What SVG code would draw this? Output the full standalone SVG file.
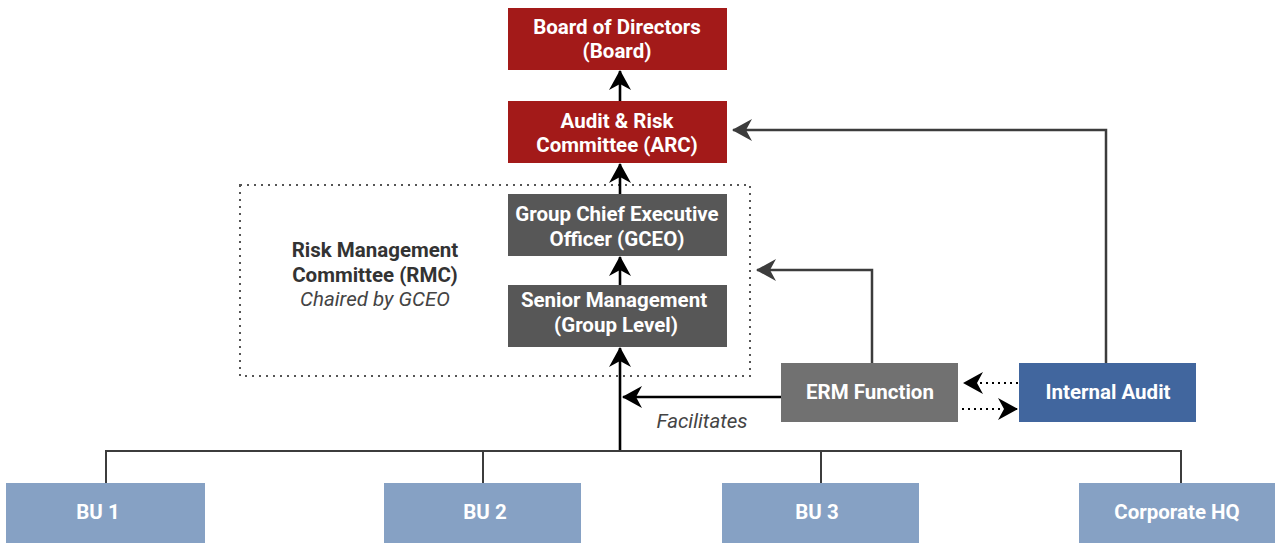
<svg xmlns="http://www.w3.org/2000/svg" width="1275" height="543" viewBox="0 0 1275 543">
<style>
.t{font-family:Roboto,"Liberation Sans",sans-serif;font-weight:bold;font-size:20.5px;fill:#fff;text-anchor:middle}
.d{font-family:Roboto,"Liberation Sans",sans-serif;font-size:20.5px;fill:#333;text-anchor:middle}
.it{font-style:italic;fill:#444;font-weight:normal}
.red{fill:#A31A19}
.dg{fill:#575757}
.bu{fill:#86A1C4}
.k{fill:none;stroke:#000;stroke-width:2.6}
.g{fill:none;stroke:#3c3c3c;stroke-width:2.5}
.bus{fill:none;stroke:#3c3c3c;stroke-width:2}
.dot{fill:none;stroke:#000;stroke-width:2;stroke-dasharray:2 4}
</style>
<defs>
<marker id="ak" viewBox="0 0 20 22" refX="19" refY="11" markerWidth="20" markerHeight="22" markerUnits="userSpaceOnUse" orient="auto"><path d="M0,0 L20,11 L0,22 L6,11 z" fill="#000"/></marker>
<marker id="ag" viewBox="0 0 20 22" refX="19" refY="11" markerWidth="20" markerHeight="22" markerUnits="userSpaceOnUse" orient="auto"><path d="M0,0 L20,11 L0,22 L6,11 z" fill="#3c3c3c"/></marker>
</defs>
<g id="rmc">
<rect x="240" y="185" width="510" height="191" fill="none" stroke="#555" stroke-width="2" stroke-dasharray="2 5"/>
<text class="d" x="375" y="257" font-weight="bold">Risk Management</text>
<text class="d" x="375" y="282" font-weight="bold">Committee (RMC)</text>
<text class="d it" x="375" y="306">Chaired by GCEO</text>
</g>
<g id="connectors">
<path class="k" d="M620,101 V71" marker-end="url(#ak)"/>
<path class="k" d="M620,194 V164" marker-end="url(#ak)"/>
<path class="k" d="M620,285 V257" marker-end="url(#ak)"/>
<path class="k" d="M620,451 V348" marker-end="url(#ak)"/>
<path class="k" d="M781,397 H623" marker-end="url(#ak)"/>
<path class="bus" d="M106,483 V451 H1181 V483 M483,451 V483 M821,451 V483"/>
<path class="g" d="M872,363 V270 H757" marker-end="url(#ag)"/>
<path class="g" d="M1106,363 V130 H733" marker-end="url(#ag)"/>
<path class="dot" d="M1018,383 H964" marker-end="url(#ak)"/>
<path class="dot" d="M962,409 H1017" marker-end="url(#ak)"/>
<text class="d it" x="702" y="428">Facilitates</text>
</g>
<g id="board"><rect class="red" x="508" y="8" width="219" height="62"/>
<text class="t" x="617" y="34">Board of Directors</text><text class="t" x="617" y="58">(Board)</text></g>
<g id="arc"><rect class="red" x="508" y="101" width="219" height="62"/>
<text class="t" x="617" y="128">Audit &amp; Risk</text><text class="t" x="617" y="152">Committee (ARC)</text></g>
<g id="gceo"><rect class="dg" x="508" y="194" width="219" height="62"/>
<text class="t" x="617" y="221">Group Chief Executive</text><text class="t" x="617" y="246">Officer (GCEO)</text></g>
<g id="sm"><rect class="dg" x="508" y="285" width="219" height="62"/>
<text class="t" x="614" y="307">Senior Management</text><text class="t" x="616" y="332">(Group Level)</text></g>
<g id="erm"><rect x="781" y="363" width="177" height="59" fill="#717171"/>
<text class="t" x="870" y="399">ERM Function</text></g>
<g id="ia"><rect x="1019" y="363" width="177" height="59" fill="#41669E"/>
<text class="t" x="1108" y="399">Internal Audit</text></g>
<g id="bu1"><rect class="bu" x="6" y="483" width="199" height="60"/><text class="t" x="98" y="519">BU 1</text></g>
<g id="bu2"><rect class="bu" x="384" y="483" width="197" height="60"/><text class="t" x="485" y="519">BU 2</text></g>
<g id="bu3"><rect class="bu" x="722" y="483" width="197" height="60"/><text class="t" x="817" y="519">BU 3</text></g>
<g id="hq"><rect class="bu" x="1079" y="483" width="196" height="60"/><text class="t" x="1177" y="519">Corporate HQ</text></g>
</svg>
